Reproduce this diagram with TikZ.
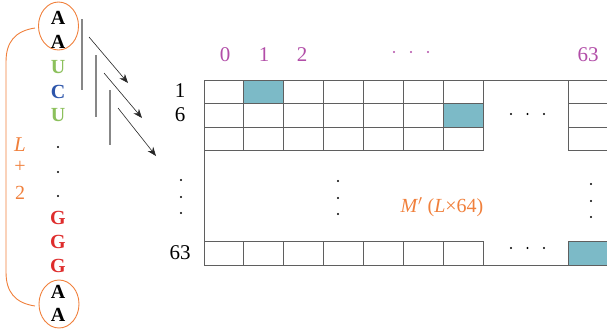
\documentclass[tikz,border=0pt]{standalone}
\usepackage{fontspec}
\setmainfont{Liberation Serif}
\usetikzlibrary{arrows.meta,shapes.geometric}
\definecolor{cellfill}{RGB}{124,186,199}
\definecolor{lblpurple}{RGB}{178,78,168}
\definecolor{orng}{RGB}{240,128,60}
\definecolor{ugreen}{RGB}{140,192,92}
\definecolor{cblue}{RGB}{45,85,170}
\definecolor{gred}{RGB}{222,44,44}
\definecolor{gridgray}{RGB}{95,95,95}
\definecolor{bargray}{RGB}{135,135,135}
\tikzset{
  seq/.style={font=\fontsize{20}{20}\selectfont\bfseries, inner sep=0pt},
  num/.style={font=\fontsize{21}{21}\selectfont, inner sep=0pt},
  collbl/.style={num, text=lblpurple},
  orlbl/.style={font=\fontsize{20}{20}\selectfont, inner sep=0pt, text=orng},
  cellline/.style={draw=gridgray, line width=0.9pt},
  hl/.style={fill=cellfill},
  dotmark/.style={circle, fill=black, inner sep=0pt, minimum size=2.4pt},
  pdot/.style={circle, fill=lblpurple, inner sep=0pt, minimum size=2.4pt},
  bar/.style={draw=bargray, line width=1.4pt},
  arr/.style={draw=black!85, line width=0.6pt, -{Stealth[length=9pt,width=7pt]}},
  oval/.style={draw=orng, line width=0.9pt},
}
\begin{document}
\begin{tikzpicture}[x=1pt,y=-1pt]
\useasboundingbox (0,0) rectangle (607,335);

% sequence
\node[seq] (s1) at (58,18) {A};
\node[seq] (s2) at (58,42) {A};
\node[seq, text=ugreen] (s3) at (58,67) {U};
\node[seq, text=cblue] (s4) at (58,92) {C};
\node[seq, text=ugreen] (s5) at (58,115) {U};
\node[dotmark] (s6) at (58,147) {};
\node[dotmark] (s7) at (58,172) {};
\node[dotmark] (s8) at (58,196) {};
\node[seq, text=gred] (s9) at (58,218) {G};
\node[seq, text=gred] (s10) at (58,242) {G};
\node[seq, text=gred] (s11) at (58,266) {G};
\node[seq] (s12) at (58,292) {A};
\node[seq] (s13) at (58,315) {A};

% ovals
\node[oval, ellipse, minimum width=40pt, minimum height=48pt] (o1) at (58.5,26) {};
\node[oval, ellipse, minimum width=40pt, minimum height=48pt] (o2) at (59,304) {};

% bracket
\coordinate (b1) at (35,28);
\coordinate (b2) at (35,306);
\draw[draw=orng, line width=0.9pt] (b1) .. controls (15,31) and (6,42) .. (6,62) -- (6,272) .. controls (6,292) and (15,303) .. (b2);

\node[orlbl, font=\fontsize{21}{21}\selectfont\itshape] (lL) at (20,145) {L};
\node[orlbl] (lP) at (20,167) {+};
\node[orlbl] (l2) at (20,193) {2};

% bars
\coordinate (v1a) at (82,19); \coordinate (v1b) at (82,90);
\coordinate (v2a) at (96,55); \coordinate (v2b) at (96,117);
\coordinate (v3a) at (110,90); \coordinate (v3b) at (110,145);
\draw[bar] (v1a) -- (v1b);
\draw[bar] (v2a) -- (v2b);
\draw[bar] (v3a) -- (v3b);

% arrows
\coordinate (a1s) at (89,37); \coordinate (a1e) at (128,83);
\coordinate (a2s) at (104,73); \coordinate (a2e) at (142,118);
\coordinate (a3s) at (118,108); \coordinate (a3e) at (156,156);
\draw[arr] (a1s) -- (a1e);
\draw[arr] (a2s) -- (a2e);
\draw[arr] (a3s) -- (a3e);

% highlighted cells
\fill[hl] (244,80) rectangle (284,103.5);
\fill[hl] (443.5,103.5) rectangle (483.5,127);
\fill[hl] (568,241.5) rectangle (612,265.5);

% top grid
\foreach \i in {0,...,6} {
  \foreach \j in {0,1,2} {
    \draw[cellline] (204+39.9*\i, 80+23.5*\j) rectangle ++(39.9,23.5);
  }
  \draw[cellline] (204+39.9*\i, 241.5) rectangle ++(39.9,24);
}
\foreach \j in {0,1,2} {
  \draw[cellline] (568, 80+23.5*\j) rectangle ++(44,23.5);
}
\draw[cellline] (568,241.5) rectangle ++(44,24);
% outer frame
\draw[cellline] (204,80) -- (612,80);
\draw[cellline] (204,80) -- (204,265.5) -- (612,265.5);

% row labels
\node[num] (r1) at (180,91) {1};
\node[num] (r6) at (180,115) {6};
\node[num] (r63) at (180,253) {63};
\node[dotmark] (rd1) at (181,180) {};
\node[dotmark] (rd2) at (181,197) {};
\node[dotmark] (rd3) at (181,213) {};

% column labels
\node[collbl] (c0) at (225,55) {0};
\node[collbl] (c1) at (264,55) {1};
\node[collbl] (c2) at (302,55) {2};
\node[collbl] (c63) at (588,55) {63};
\node[pdot] (cd1) at (394,52) {};
\node[pdot] (cd2) at (411,52) {};
\node[pdot] (cd3) at (428,52) {};

% inner dots
\node[dotmark] (hd1) at (511,114) {};
\node[dotmark] (hd2) at (527.5,114) {};
\node[dotmark] (hd3) at (544,114) {};
\node[dotmark] (bd1) at (511,248) {};
\node[dotmark] (bd2) at (527.5,248) {};
\node[dotmark] (bd3) at (544,248) {};
\node[dotmark] (md1) at (338,181) {};
\node[dotmark] (md2) at (338,198) {};
\node[dotmark] (md3) at (338,214) {};
\node[dotmark] (qd1) at (591,184) {};
\node[dotmark] (qd2) at (591,201) {};
\node[dotmark] (qd3) at (591,217) {};

\node[orlbl] (mlbl) at (442,207) {\textit{M}$'$ (\textit{L}×64)};
\end{tikzpicture}
\end{document}
